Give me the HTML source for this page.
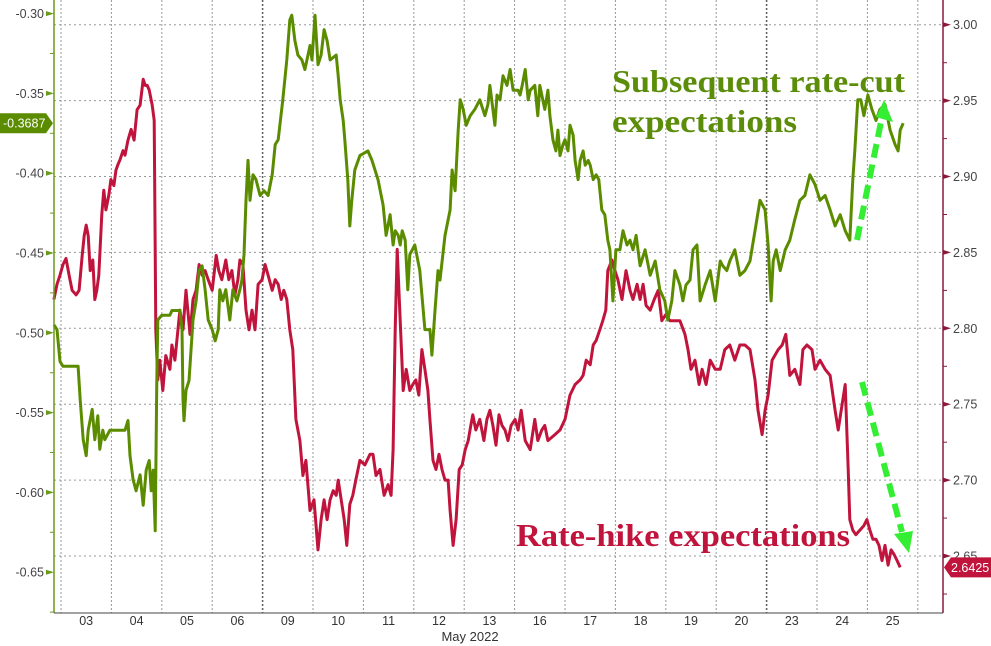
<!DOCTYPE html>
<html><head><meta charset="utf-8"><style>
body{margin:0;background:#fff;}
svg{display:block;font-family:"Liberation Sans",sans-serif;}
</style></head><body>
<svg id="chart" width="991" height="646" viewBox="0 0 991 646" xmlns="http://www.w3.org/2000/svg">
<g id="grid"></g>
<g id="series"></g>
<g id="axes"></g>
<text x="612" y="92" font-family="Liberation Serif,serif" font-weight="bold" font-size="32" fill="#5b8c0a" textLength="293" lengthAdjust="spacingAndGlyphs">Subsequent rate-cut</text>
<text x="612" y="132" font-family="Liberation Serif,serif" font-weight="bold" font-size="32" fill="#5b8c0a" textLength="185" lengthAdjust="spacingAndGlyphs">expectations</text>
<text x="516" y="546" font-family="Liberation Serif,serif" font-weight="bold" font-size="32" fill="#c0143c" textLength="334" lengthAdjust="spacingAndGlyphs">Rate-hike expectations</text>
<g>
<line x1="857" y1="240" x2="881" y2="122" stroke="#33ee33" stroke-width="6" stroke-dasharray="14,7"/>
<polygon points="876,117 893,122 884,100" fill="#33ee33"/>
</g>
<g>
<line x1="862" y1="382" x2="902" y2="532" stroke="#33ee33" stroke-width="6" stroke-dasharray="14,7"/>
<polygon points="894,534 913,531 909,553" fill="#33ee33"/>
</g>
<text x="470" y="641" font-size="13" fill="#333" text-anchor="middle">May 2022</text>
</svg>
<script>
const dayLabels=["03","04","05","06","09","10","11","12","13","16","17","18","19","20","23","24","25"];
const leftTicks=[-0.30,-0.35,-0.40,-0.45,-0.50,-0.55,-0.60,-0.65];
const rightTicks=[3.00,2.95,2.90,2.85,2.80,2.75,2.70,2.65];
const greenT=[-0.14,-0.08,-0.02,0.04,0.34,0.38,0.44,0.50,0.54,0.62,0.67,0.73,0.77,0.83,0.87,0.97,1.27,1.33,1.37,1.43,1.49,1.57,1.63,1.69,1.75,1.79,1.83,1.87,1.90,1.92,2.00,2.16,2.20,2.36,2.40,2.42,2.44,2.48,2.54,2.58,2.62,2.68,2.74,2.80,2.86,2.92,3.00,3.06,3.12,3.15,3.21,3.27,3.35,3.41,3.49,3.55,3.59,3.63,3.67,3.71,3.75,3.81,3.87,3.95,4.03,4.11,4.19,4.25,4.31,4.40,4.48,4.54,4.58,4.64,4.70,4.78,4.84,4.90,4.94,4.98,5.04,5.10,5.16,5.22,5.28,5.34,5.46,5.50,5.54,5.60,5.63,5.69,5.73,5.77,5.83,5.93,6.09,6.17,6.29,6.39,6.45,6.53,6.59,6.63,6.69,6.73,6.77,6.83,6.88,6.92,7.02,7.12,7.22,7.32,7.36,7.42,7.48,7.52,7.62,7.72,7.76,7.82,7.88,7.92,7.98,8.04,8.12,8.21,8.31,8.41,8.47,8.51,8.57,8.61,8.65,8.71,8.77,8.85,8.91,8.97,9.07,9.11,9.15,9.21,9.27,9.31,9.40,9.46,9.50,9.54,9.60,9.66,9.70,9.76,9.82,9.86,9.90,9.96,10.00,10.06,10.10,10.16,10.20,10.26,10.30,10.36,10.40,10.46,10.50,10.56,10.62,10.67,10.73,10.79,10.85,10.89,10.95,11.01,11.09,11.15,11.23,11.29,11.35,11.41,11.49,11.59,11.69,11.79,11.88,11.98,12.04,12.12,12.18,12.28,12.34,12.40,12.48,12.54,12.62,12.68,12.78,12.88,12.98,13.08,13.13,13.21,13.27,13.37,13.47,13.57,13.67,13.77,13.87,13.97,14.03,14.09,14.13,14.19,14.27,14.37,14.46,14.56,14.66,14.76,14.86,14.96,15.06,15.16,15.26,15.36,15.46,15.56,15.65,15.71,15.75,15.81,15.87,15.93,16.01,16.09,16.17,16.25,16.35,16.45,16.55,16.61,16.65,16.71];
const greenV=[-0.495,-0.498,-0.518,-0.521,-0.521,-0.542,-0.567,-0.577,-0.561,-0.548,-0.567,-0.552,-0.573,-0.561,-0.567,-0.561,-0.561,-0.555,-0.577,-0.592,-0.599,-0.589,-0.608,-0.586,-0.580,-0.599,-0.586,-0.624,-0.530,-0.492,-0.489,-0.489,-0.486,-0.486,-0.498,-0.542,-0.555,-0.536,-0.530,-0.511,-0.492,-0.480,-0.461,-0.458,-0.473,-0.492,-0.498,-0.505,-0.498,-0.473,-0.480,-0.473,-0.492,-0.473,-0.480,-0.473,-0.467,-0.451,-0.417,-0.392,-0.417,-0.401,-0.404,-0.414,-0.411,-0.414,-0.401,-0.382,-0.379,-0.354,-0.329,-0.304,-0.301,-0.317,-0.326,-0.329,-0.335,-0.326,-0.320,-0.329,-0.301,-0.332,-0.326,-0.310,-0.317,-0.329,-0.326,-0.339,-0.354,-0.367,-0.379,-0.404,-0.433,-0.417,-0.398,-0.389,-0.386,-0.392,-0.404,-0.420,-0.439,-0.426,-0.445,-0.436,-0.439,-0.445,-0.436,-0.442,-0.473,-0.451,-0.445,-0.461,-0.498,-0.498,-0.514,-0.486,-0.461,-0.467,-0.439,-0.423,-0.398,-0.411,-0.373,-0.354,-0.360,-0.370,-0.364,-0.360,-0.354,-0.364,-0.357,-0.345,-0.360,-0.370,-0.351,-0.354,-0.339,-0.345,-0.335,-0.348,-0.348,-0.351,-0.345,-0.335,-0.354,-0.348,-0.345,-0.364,-0.345,-0.351,-0.360,-0.348,-0.364,-0.379,-0.386,-0.373,-0.389,-0.382,-0.379,-0.386,-0.370,-0.376,-0.392,-0.404,-0.392,-0.386,-0.395,-0.392,-0.395,-0.404,-0.401,-0.404,-0.423,-0.426,-0.442,-0.448,-0.480,-0.448,-0.448,-0.436,-0.445,-0.442,-0.448,-0.439,-0.458,-0.448,-0.464,-0.455,-0.473,-0.480,-0.492,-0.480,-0.461,-0.470,-0.480,-0.470,-0.467,-0.448,-0.445,-0.480,-0.470,-0.461,-0.480,-0.455,-0.458,-0.461,-0.455,-0.448,-0.464,-0.461,-0.455,-0.436,-0.417,-0.423,-0.445,-0.480,-0.455,-0.448,-0.461,-0.448,-0.442,-0.429,-0.417,-0.414,-0.401,-0.407,-0.417,-0.414,-0.423,-0.433,-0.426,-0.436,-0.442,-0.404,-0.386,-0.354,-0.354,-0.364,-0.351,-0.360,-0.367,-0.360,-0.357,-0.373,-0.382,-0.386,-0.373,-0.3687];
const redT=[-0.14,-0.08,-0.02,0.04,0.10,0.16,0.22,0.30,0.36,0.42,0.46,0.50,0.54,0.58,0.63,0.67,0.71,0.75,0.81,0.85,0.89,0.95,0.99,1.05,1.09,1.13,1.17,1.23,1.27,1.33,1.39,1.45,1.51,1.57,1.63,1.67,1.71,1.75,1.81,1.85,1.87,1.88,1.92,1.96,2.02,2.08,2.16,2.20,2.26,2.36,2.42,2.48,2.56,2.62,2.68,2.74,2.80,2.86,2.92,3.00,3.08,3.13,3.19,3.27,3.33,3.39,3.45,3.51,3.55,3.61,3.67,3.73,3.79,3.85,3.91,3.99,4.05,4.11,4.19,4.25,4.31,4.37,4.42,4.48,4.54,4.60,4.66,4.74,4.80,4.86,4.94,5.02,5.10,5.16,5.22,5.28,5.34,5.40,5.46,5.50,5.56,5.62,5.67,5.73,5.79,5.85,5.93,6.03,6.13,6.19,6.25,6.33,6.41,6.49,6.55,6.59,6.63,6.67,6.73,6.79,6.85,6.92,6.98,7.04,7.10,7.16,7.22,7.28,7.32,7.38,7.44,7.50,7.56,7.62,7.68,7.72,7.78,7.84,7.90,7.96,8.02,8.08,8.13,8.17,8.23,8.31,8.39,8.45,8.51,8.57,8.63,8.69,8.75,8.81,8.87,8.93,9.01,9.07,9.13,9.21,9.31,9.40,9.46,9.54,9.60,9.66,9.80,9.90,10.00,10.10,10.20,10.30,10.36,10.42,10.50,10.56,10.62,10.69,10.75,10.81,10.85,10.93,10.99,11.05,11.13,11.21,11.29,11.35,11.43,11.49,11.55,11.61,11.69,11.77,11.85,11.92,12.00,12.08,12.28,12.38,12.44,12.50,12.58,12.66,12.72,12.80,12.88,12.98,13.08,13.17,13.27,13.37,13.47,13.57,13.67,13.77,13.83,13.91,13.97,14.03,14.11,14.23,14.31,14.38,14.46,14.56,14.66,14.72,14.80,14.90,14.96,15.06,15.16,15.26,15.36,15.42,15.48,15.56,15.62,15.65,15.71,15.77,15.85,15.93,15.99,16.05,16.11,16.17,16.23,16.29,16.35,16.41,16.47,16.53,16.59,16.65];
const redV=[2.819,2.829,2.835,2.842,2.846,2.835,2.825,2.822,2.825,2.848,2.861,2.868,2.861,2.838,2.845,2.819,2.825,2.835,2.875,2.891,2.878,2.888,2.898,2.894,2.904,2.908,2.911,2.917,2.914,2.924,2.931,2.924,2.944,2.947,2.964,2.960,2.960,2.957,2.947,2.937,2.852,2.799,2.766,2.779,2.759,2.782,2.773,2.789,2.779,2.812,2.799,2.825,2.796,2.819,2.825,2.842,2.835,2.838,2.832,2.825,2.848,2.838,2.832,2.845,2.832,2.838,2.822,2.832,2.845,2.842,2.812,2.799,2.812,2.799,2.829,2.832,2.842,2.835,2.825,2.832,2.829,2.819,2.825,2.819,2.799,2.786,2.740,2.726,2.703,2.713,2.680,2.687,2.654,2.674,2.687,2.674,2.687,2.693,2.690,2.700,2.687,2.674,2.657,2.684,2.690,2.700,2.713,2.710,2.717,2.717,2.703,2.707,2.690,2.697,2.690,2.720,2.799,2.852,2.805,2.759,2.773,2.759,2.763,2.766,2.756,2.786,2.773,2.759,2.740,2.713,2.707,2.717,2.707,2.700,2.700,2.680,2.657,2.674,2.707,2.710,2.720,2.726,2.736,2.743,2.733,2.740,2.726,2.740,2.746,2.736,2.723,2.743,2.736,2.733,2.726,2.736,2.740,2.733,2.746,2.726,2.720,2.740,2.726,2.733,2.736,2.726,2.730,2.733,2.740,2.756,2.763,2.766,2.769,2.779,2.776,2.789,2.792,2.799,2.805,2.812,2.838,2.845,2.838,2.832,2.819,2.838,2.825,2.819,2.829,2.819,2.829,2.815,2.812,2.819,2.825,2.805,2.809,2.805,2.805,2.796,2.786,2.773,2.779,2.763,2.773,2.763,2.779,2.773,2.773,2.786,2.789,2.779,2.789,2.789,2.786,2.766,2.746,2.730,2.746,2.756,2.779,2.786,2.789,2.796,2.769,2.773,2.763,2.786,2.789,2.786,2.773,2.779,2.773,2.769,2.746,2.733,2.746,2.763,2.707,2.674,2.667,2.664,2.667,2.670,2.674,2.667,2.661,2.661,2.657,2.647,2.657,2.644,2.654,2.651,2.647,2.6425];

const NS="http://www.w3.org/2000/svg";
const X0=54,X1=943,YB=613;
function xScale(t){return 61+50.4*t;}
function yLeft(v){return 13.6+(-0.30-v)*1596;}
function yRight(v){return 24.7+(3.00-v)*1518;}
function mk(tag,attrs,parent){const e=document.createElementNS(NS,tag);for(const k in attrs)e.setAttribute(k,attrs[k]);parent.appendChild(e);return e;}
const grid=document.getElementById('grid'),series=document.getElementById('series'),axes=document.getElementById('axes');

rightTicks.forEach(v=>{const y=yRight(v);
 const g=mk('line',{x1:X0,x2:X1,y1:y,y2:y,stroke:'#999','stroke-width':1,'stroke-dasharray':'2,3'},grid);
 
 
});
for(let i=0;i<=dayLabels.length;i++){
 const x=xScale(i);if(x>X1)continue;
 const wk=(i===4||i===14);
 const g=mk('line',{x1:x,x2:x,y1:0,y2:YB,stroke:wk?'#666':'#999','stroke-width':wk?1.6:1,'stroke-dasharray':'2,2'},grid);
 
 
}
function path(T,V,ys,color,name){
 let d='';T.forEach((t,i)=>{d+=(i?'L':'M')+xScale(t).toFixed(1)+','+ys(V[i]).toFixed(1);});
 const p=mk('path',{d:d,fill:'none',stroke:color,'stroke-width':3,'stroke-linejoin':'round'},series);
 
 
}
path(redT,redV,yRight,'#c0143c','rate-hike-line');
path(greenT,greenV,yLeft,'#5b8c00','rate-cut-line');

let a=mk('line',{x1:X0,x2:X0,y1:0,y2:YB,stroke:'#6a9a1a','stroke-width':1.5},axes);


a=mk('line',{x1:X1,x2:X1,y1:0,y2:YB,stroke:'#8b1a3a','stroke-width':1.5},axes);


a=mk('line',{x1:X0,x2:X1,y1:YB,y2:YB,stroke:'#444','stroke-width':1},axes);


leftTicks.forEach((v,i)=>{const y=yLeft(v);
 mk('polygon',{points:`${X0-8},${y-2.5} ${X0},${y} ${X0-8},${y+2.5}`,fill:'#6a9a1a'},axes);
 mk('line',{x1:X0-4,x2:X0,y1:y+39.9,y2:y+39.9,stroke:'#6a9a1a'},axes);
 const t=mk('text',{x:X0-10,y:y+4.5,'text-anchor':'end','font-size':12.5,fill:'#444'},axes);
 t.textContent=v.toFixed(2);
 
 
});
rightTicks.forEach(v=>{const y=yRight(v);
 mk('polygon',{points:`${X1},${y-2.5} ${X1+8},${y} ${X1},${y+2.5}`,fill:'#8b1a3a'},axes);
 mk('line',{x1:X1,x2:X1+4,y1:y+38,y2:y+38,stroke:'#8b1a3a'},axes);
 const t=mk('text',{x:X1+10,y:y+4.5,'font-size':12.5,fill:'#444'},axes);
 t.textContent=v.toFixed(2);
 
 
});
dayLabels.forEach((d,i)=>{
 const t=mk('text',{x:xScale(i+0.5),y:625,'text-anchor':'middle','font-size':12.5,fill:'#333'},axes);
 t.textContent=d;
 
 
});
const gl=greenV[greenV.length-1],rl=redV[redV.length-1];
let gy=yLeft(gl),ry=yRight(rl);
let b=mk('polygon',{points:`0,${gy-10} 46,${gy-10} 53,${gy} 46,${gy+10} 0,${gy+10}`,fill:'#5b8c00'},axes);


let bt=mk('text',{x:3,y:gy+4.5,'font-size':12.5,fill:'#fff'},axes);bt.textContent=gl.toFixed(4);


b=mk('polygon',{points:`944,${ry} 951,${ry-10} 991,${ry-10} 991,${ry+10} 951,${ry+10}`,fill:'#c0143c'},axes);


bt=mk('text',{x:951,y:ry+4.5,'font-size':12.5,fill:'#fff'},axes);bt.textContent=rl.toFixed(4);


</script>
</body></html>
